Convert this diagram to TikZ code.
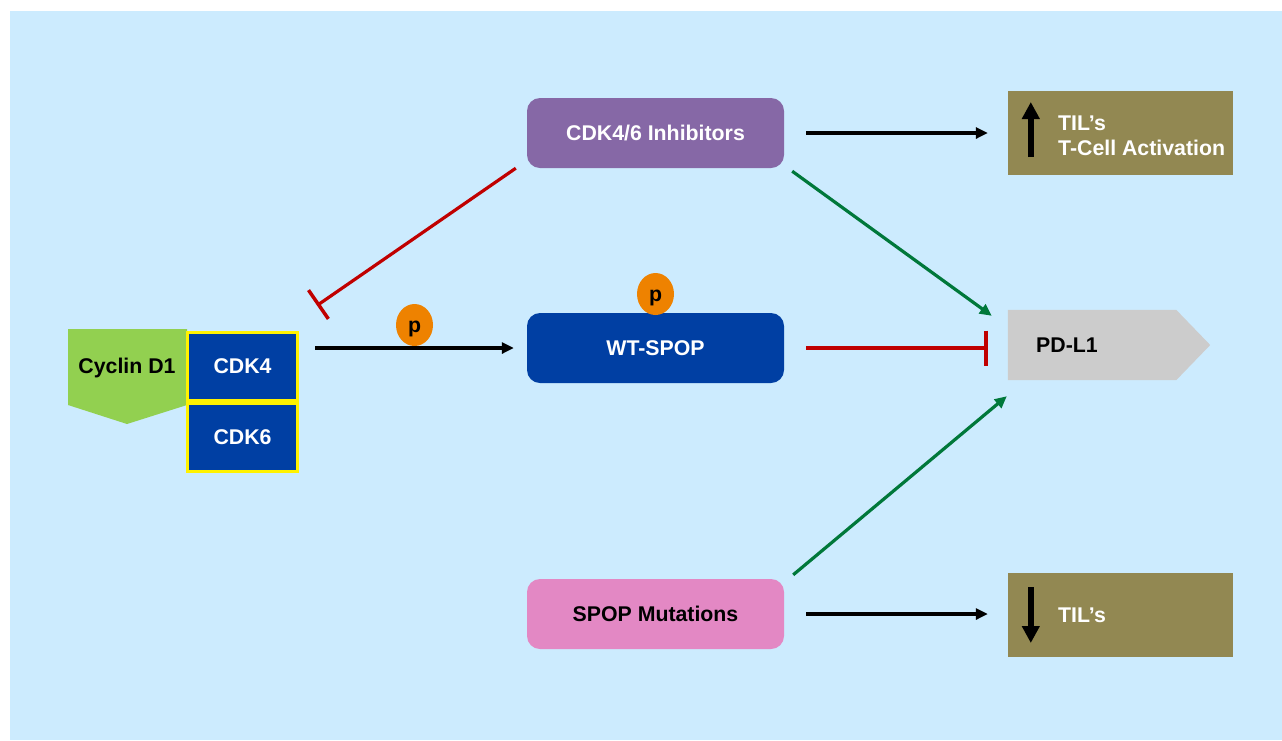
\documentclass[tikz,border=0pt]{standalone}
\usepackage{fontspec}
\setmainfont{Liberation Sans}
\usetikzlibrary{arrows.meta,calc,shapes.geometric}

\definecolor{skyback}{HTML}{CCEBFE}
\definecolor{inhpurple}{HTML}{8668A6}
\definecolor{spopblue}{HTML}{003FA3}
\definecolor{mutpink}{HTML}{E388C4}
\definecolor{tilolive}{HTML}{928852}
\definecolor{pdgray}{HTML}{CCCCCC}
\definecolor{cycgreen}{HTML}{92D050}
\definecolor{phosorange}{HTML}{EE8200}
\definecolor{inhred}{HTML}{C00000}
\definecolor{actgreen}{HTML}{00783A}

\tikzset{
  lbl/.style={font=\fontsize{21.3}{25}\selectfont\bfseries, inner sep=0pt},
  roundbox/.style={lbl, rounded corners=13pt, minimum width=257pt, minimum height=70pt},
  tilbox/.style={lbl, fill=tilolive, text=white, minimum width=225pt, minimum height=84pt},
  cdkbox/.style={lbl, fill=spopblue, draw=yellow, line width=3pt, text=white,
                 minimum width=110pt, minimum height=68pt},
  phos/.style={lbl, ellipse, fill=phosorange, minimum width=37pt, minimum height=42pt,
               text depth=0pt, text height=15pt},
  act/.style={line width=3.2pt, -{Triangle[length=12pt,width=11pt]}},
  actg/.style={act, draw=actgreen},
  inhib/.style={line width=3.2pt, draw=inhred, -{Bar[width=35pt,line width=3.5pt]}},
  bigarrow/.style={line width=6pt, -{Triangle[length=17pt,width=17pt]}},
}

\begin{document}
\begin{tikzpicture}[x=1pt,y=-1pt]
  % canvas and panel
  \fill[white] (0,0) rectangle (1282,740);
  \fill[skyback] (10,11) rectangle (1282,740);

  % Cyclin D1 with CDK4 / CDK6
  \fill[cycgreen] (68,329) -- (187,329) -- (187,405) -- (127,424) -- (68,405) -- cycle;
  \node[lbl] (cyc) at (127,368) {Cyclin D1};
  \node[cdkbox] (cdk4) at (242.5,366) {CDK4};
  \node[cdkbox] (cdk6) at (242.5,437.5) {CDK6};

  % central pathway boxes
  \node[roundbox, fill=inhpurple, text=white] (inh) at (655.5,133) {CDK4/6 Inhibitors};
  \node[roundbox, fill=spopblue, text=white] (wt) at (655.5,348) {WT-SPOP};
  \node[roundbox, fill=mutpink] (mut) at (655.5,614) {SPOP Mutations};

  % PD-L1 pointer shape
  \node[minimum width=202pt, minimum height=70pt, inner sep=0pt] (pd) at (1109,345) {};
  \fill[pdgray] (pd.north west) -- ([xshift=-34pt]pd.north east) -- (pd.east)
    -- ([xshift=-34pt]pd.south east) -- (pd.south west) -- cycle;
  \node[lbl] (pdtext) at (1067,345) {PD-L1};

  % outcome boxes
  \node[tilbox] (til1) at (1120.5,133) {};
  \node[lbl, text=white, align=left, anchor=west] (til1t) at (1058,136)
    {TIL’s\\T-Cell Activation};
  \draw[bigarrow] ($(til1.west)+(23,24)$) -- ($(til1.west)+(23,-31)$);

  \node[tilbox] (til2) at (1120.5,615) {};
  \node[lbl, text=white, anchor=west] (til2t) at (1058,615) {TIL’s};
  \draw[bigarrow] ($(til2.west)+(23,-28)$) -- ($(til2.west)+(23,28)$);

  % phosphorylation marks
  \node[phos] (p1) at (414.5,325) {p};
  \node[phos] (p2) at (655.5,294) {p};

  % connectors
  \draw[act] ($(cdk4.east |- wt.west)+(16,0)$) -- ($(wt.west)+(-13,0)$);
  \draw[inhib] ($(inh.south west)+(-11,0)$) -- ($(cdk4.north east)+(18,-25)$);
  \draw[inhib] ($(wt.east)+(22,0)$) -- ($(pd.west |- wt.east)+(-20,0)$);
  \draw[actg] ($(inh.south east)+(8,3)$) -- ($(pd.north west)+(-16,6)$);
  \draw[actg] ($(mut.north east)+(9,-4)$) -- ($(pd.south west)+(-1,16)$);
  \draw[act] ($(inh.east)+(22,0)$) -- ($(til1.west)+(-20,0)$);
  \draw[act] ($(mut.east)+(22,0)$) -- ($(til2.west |- mut.east)+(-20,0)$);
\end{tikzpicture}
\end{document}
